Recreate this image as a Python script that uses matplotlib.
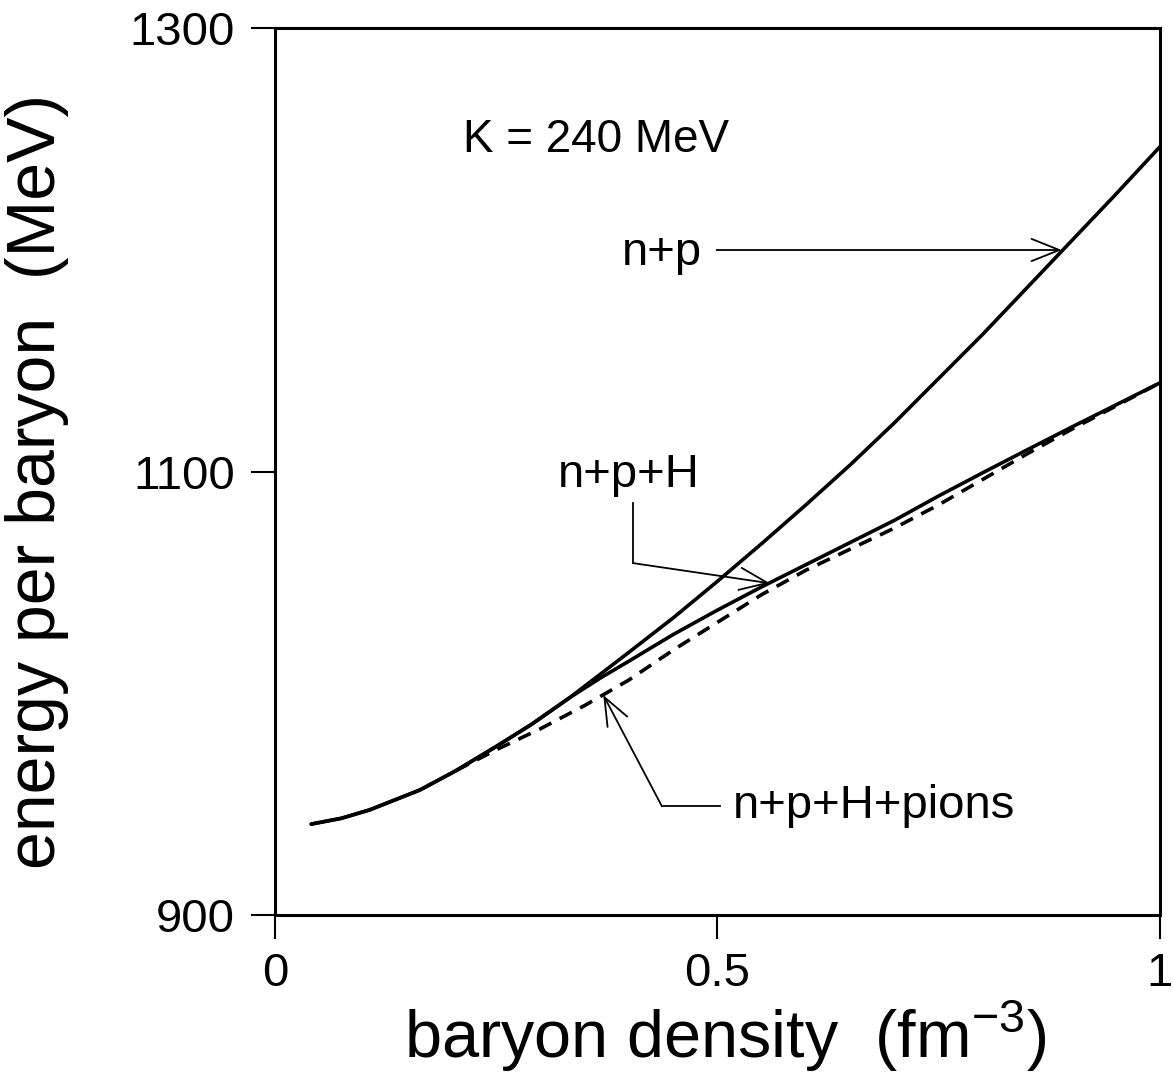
import matplotlib
matplotlib.use("Agg")
import matplotlib.pyplot as plt

plt.rcParams['font.family'] = ['Liberation Sans', 'DejaVu Sans']
plt.rcParams['mathtext.fontset'] = 'custom'
plt.rcParams['mathtext.rm'] = 'Liberation Sans'
plt.rcParams['mathtext.it'] = 'Liberation Sans:italic'

# energy per baryon (MeV) vs baryon density (fm^-3)
x_np = [0.041, 0.075, 0.107, 0.164, 0.205, 0.25, 0.29, 0.333, 0.40, 0.45,
        0.50, 0.55, 0.60, 0.65, 0.70, 0.75, 0.80, 0.85, 0.90, 0.95, 1.0]
e_np = [941.0, 943.6, 947.4, 956.4, 965.2, 976.0, 986.0, 998.0, 1018.5, 1034.0,
        1050.5, 1067.5, 1085.0, 1103.0, 1122.0, 1142.0, 1162.0, 1183.0, 1204.0,
        1225.0, 1246.5]

x_nph = [0.041, 0.075, 0.107, 0.164, 0.205, 0.25, 0.29, 0.333, 0.367, 0.40,
         0.45, 0.50, 0.55, 0.60, 0.65, 0.70, 0.75, 0.80, 0.85, 0.90, 0.95, 1.0]
e_nph = [941.0, 943.6, 947.4, 956.4, 965.2, 976.0, 986.0, 998.0, 1006.7, 1014.5,
         1026.5, 1037.5, 1048.0, 1058.0, 1068.0, 1078.0, 1089.0, 1099.5, 1109.8,
         1120.0, 1130.0, 1140.0]

x_pions = [0.205, 0.25, 0.30, 0.35, 0.40, 0.45, 0.50, 0.55, 0.60, 0.65, 0.70,
           0.75, 0.80, 0.85, 0.90, 0.95, 1.0]
e_pions = [965.2, 974.5, 984.0, 994.5, 1006.0, 1019.5, 1032.0, 1044.5, 1055.5,
           1065.0, 1074.5, 1085.0, 1096.5, 1108.0, 1119.0, 1129.5, 1140.0]

x_ticks = [0, 0.5, 1]
x_ticklabels = ['0', '0.5', '1']
y_ticks = [900, 1100, 1300]

fig = plt.figure(figsize=(11.73, 10.79), dpi=100)
ax = fig.add_axes([0.2344, 0.152, 0.7545, 0.822])

lw = 2.6
ax.plot(x_np, e_np, color='black', lw=lw, solid_capstyle='round')
ax.plot(x_nph, e_nph, color='black', lw=lw, solid_capstyle='round')
ax.plot(x_pions, e_pions, color='black', lw=lw, dashes=(3.8, 2.6))

ax.set_xlim(0, 1)
ax.set_ylim(900, 1300)
ax.set_xticks(x_ticks)
ax.set_xticklabels(x_ticklabels)
ax.set_yticks(y_ticks)
for s in ax.spines.values():
    s.set_linewidth(2.2)
ax.tick_params(axis='both', direction='out', length=17, width=1.5, labelsize=34)
ax.tick_params(axis='x', pad=10)
ax.tick_params(axis='y', pad=12)

arrow = dict(arrowstyle='->,head_length=1.0,head_width=0.4', color='black',
             lw=1.3, mutation_scale=20, shrinkA=0, shrinkB=0)

ax.text(0.2124, 1249.5, 'K = 240 MeV', fontsize=33, ha='left', va='center')

# n+p
ax.text(0.437, 1198.5, 'n+p', fontsize=34, ha='center', va='center')
ax.annotate('', xy=(0.889, 1199.9), xytext=(0.499, 1199.9), arrowprops=arrow)

# n+p+H
ax.text(0.320, 1098.5, 'n+p+H', fontsize=34, ha='left', va='center')
ax.plot([0.4045, 0.4045], [1085.8, 1058.7], color='black', lw=1.3)
ax.annotate('', xy=(0.5593, 1049.6), xytext=(0.4045, 1058.7), arrowprops=arrow)

# n+p+H+pions
ax.text(0.5175, 949.0, 'n+p+H+pions', fontsize=34, ha='left', va='center')
ax.plot([0.503, 0.437], [949.2, 949.2], color='black', lw=1.3)
ax.annotate('', xy=(0.371, 999.2), xytext=(0.437, 949.2), arrowprops=arrow)

fig.text(37 / 1173, 1 - 481 / 1079, 'energy per baryon  (MeV)', fontsize=49,
         rotation=90, ha='center', va='center')
fig.text(725 / 1173, 1 - 1058 / 1079, 'baryon density  (fm$^{\\mathrm{-3}}$)',
         fontsize=48, ha='center', va='baseline')

fig.savefig('out.png', dpi=100)
